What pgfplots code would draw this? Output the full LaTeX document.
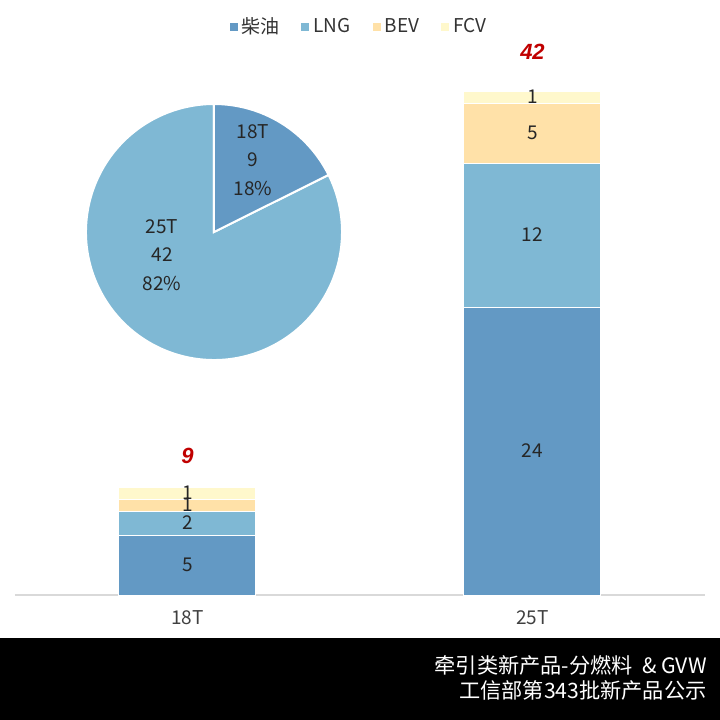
\documentclass[border=0pt]{standalone}
\usepackage{pgfplots}
\pgfplotsset{compat=1.18}
\usepackage{fontspec}
\setmainfont{Noto Sans CJK SC}
\newfontfamily\numfont{Liberation Sans}
\definecolor{diesel}{HTML}{6399C4}
\definecolor{lng}{HTML}{7FB8D4}
\definecolor{bev}{HTML}{FFE1A8}
\definecolor{fcv}{HTML}{FFF8CC}
\definecolor{txt}{HTML}{262626}
\definecolor{tot}{HTML}{C00000}
\pgfmathsetmacro{\angA}{90-360*9/(9+42)}
\pgfplotsset{frame/.style={at={(7.5pt,62.5pt)}, anchor=south west, scale only axis,
  width=345pt, height=270pt, xmin=-0.5, xmax=1.5, ymin=0, ymax=45, clip=false}}
\begin{document}
\begin{tikzpicture}
\path[use as bounding box] (0,0) rectangle (360pt,360pt);
\fill[black] (0,0) rectangle (360pt,41pt);
\node[anchor=east, text=white, font=\fontsize{10.6}{12.5}\selectfont, align=right, inner sep=0pt] at (353.5pt,21.25pt) {牵引类新产品-分燃料\ \ \& GVW\\工信部第343批新产品公示};
\begin{axis}[
  frame,
  ybar stacked, bar width=68.5pt,
  axis y line=none, axis x line=bottom,
  x axis line style={-, draw=black!15, line width=0.6pt},
  xtick={0,1}, xticklabels={18T,25T},
  xtick style={draw=none},
  xticklabel style={font=\fontsize{9.5}{11}\selectfont, text=black!75, yshift=-2pt},
  legend style={at={(0.5,1.052)}, anchor=center, draw=none, fill=none,
    legend columns=4, font=\fontsize{9.5}{11}\selectfont, text=black!80,
    /tikz/every even column/.append style={column sep=9pt}},
  legend image code/.code={\fill[#1, draw=none] (0pt,-2pt) rectangle (4pt,2pt);},
]
\addplot[fill=diesel, draw=white, line width=0.5pt] coordinates {(0,5) (1,24)};
\addplot[fill=lng, draw=white, line width=0.5pt] coordinates {(0,2) (1,12)};
\addplot[fill=bev, draw=white, line width=0.5pt] coordinates {(0,1) (1,5)};
\addplot[fill=fcv, draw=white, line width=0.5pt] coordinates {(0,1) (1,1)};
\legend{柴油,LNG,BEV,FCV}
% pie inset: 18T = 9, 25T = 42
\fill[diesel, draw=white, line width=1pt] (axis cs:0.0768,30.25) -- ++(90:64pt) arc[start angle=90, end angle=\angA, radius=64pt] -- cycle;
\fill[lng, draw=white, line width=1pt] (axis cs:0.0768,30.25) -- ++(\angA:64pt) arc[start angle=\angA, end angle=-270, radius=64pt] -- cycle;
\end{axis}
\begin{axis}[frame, hide axis]
% segment labels
\node[font=\fontsize{9.5}{11}\selectfont, text=txt] at (axis cs:0,2.5) {5};
\node[font=\fontsize{9.5}{11}\selectfont, text=txt] at (axis cs:0,6) {2};
\node[font=\fontsize{9.5}{11}\selectfont, text=txt] at (axis cs:0,7.5) {1};
\node[font=\fontsize{9.5}{11}\selectfont, text=txt] at (axis cs:0,8.5) {1};
\node[font=\fontsize{9.5}{11}\selectfont, text=txt] at (axis cs:1,12) {24};
\node[font=\fontsize{9.5}{11}\selectfont, text=txt] at (axis cs:1,30) {12};
\node[font=\fontsize{9.5}{11}\selectfont, text=txt] at (axis cs:1,38.5) {5};
\node[font=\fontsize{9.5}{11}\selectfont, text=txt] at (axis cs:1,41.5) {1};
% totals
\node[font=\numfont\bfseries\itshape\fontsize{11}{13}\selectfont, text=tot, yshift=15.5pt] at (axis cs:0,9) {9};
\node[font=\numfont\bfseries\itshape\fontsize{11}{13}\selectfont, text=tot, yshift=19.5pt] at (axis cs:1,42) {42};
% pie labels
\node[font=\fontsize{9.5}{14.25}\selectfont, text=txt, align=center] at (axis cs:0.1899,36.25) {18T\\9\\18\%};
\node[font=\fontsize{9.5}{14.25}\selectfont, text=txt, align=center] at (axis cs:-0.0739,28.33) {25T\\42\\82\%};
\end{axis}
\end{tikzpicture}
\end{document}
